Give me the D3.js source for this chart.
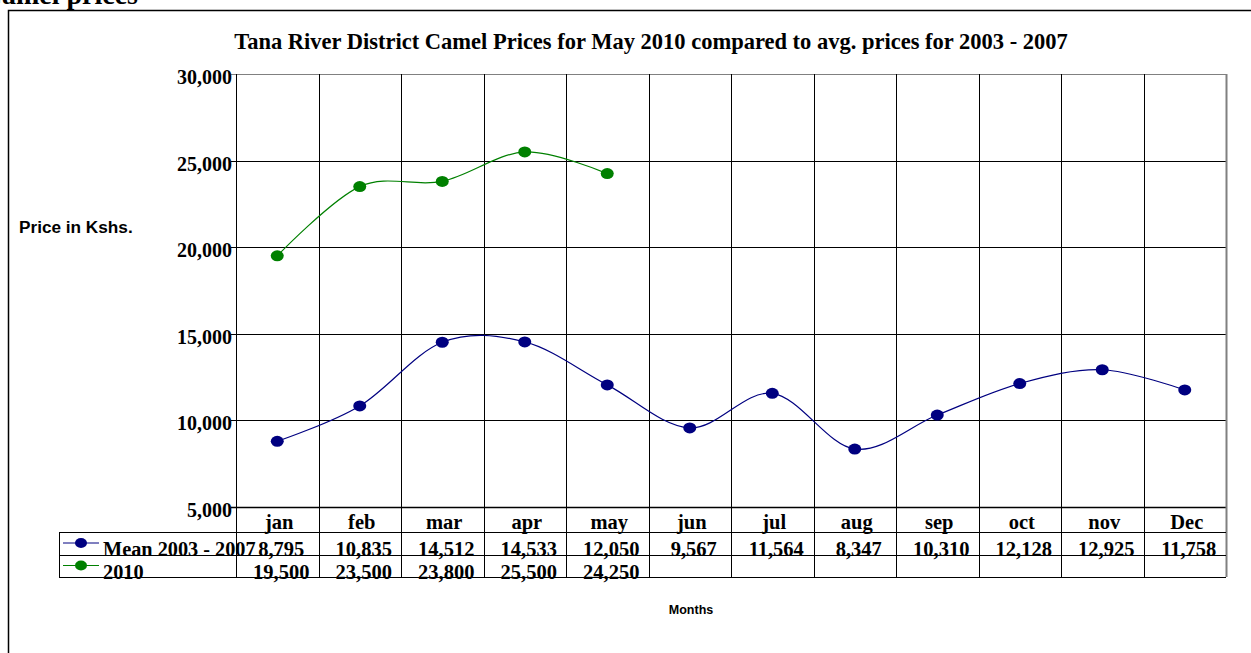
<!DOCTYPE html>
<html>
<head>
<meta charset="utf-8">
<script src="https://cdnjs.cloudflare.com/ajax/libs/d3/7.8.5/d3.min.js"></script>
<style>
  body { margin: 0; background: #fff; overflow: hidden; }
  svg { display: block; }
  .serif { font-family: "Liberation Serif", "Times New Roman", serif; font-weight: bold; }
  .sans { font-family: "Liberation Sans", Arial, sans-serif; font-weight: bold; }
</style>
</head>
<body>
<div id="chart"></div>
<script>
// data
var months = ["jan", "feb", "mar", "apr", "may", "jun", "jul", "aug", "sep", "oct", "nov", "Dec"];
var meanPrices = [8795, 10835, 14512, 14533, 12050, 9567, 11564, 8347, 10310, 12128, 12925, 11758];
var prices2010 = [19500, 23500, 23800, 25500, 24250];
var yTicks = [5000, 10000, 15000, 20000, 25000, 30000];

var seriesNames = ["Mean 2003 - 2007", "2010"];
var seriesColors = ["#000080", "#008000"];

var width = 1251, height = 653;
var plotLeft = 236, plotRight = 1226, plotTop = 74, plotBottom = 507;

var svg = d3.select("#chart").append("svg")
    .attr("width", width)
    .attr("height", height);

// outer frame (runs off the page at right/bottom)
svg.append("rect")
    .attr("x", 8.5).attr("y", 10.5)
    .attr("width", 1300).attr("height", 700)
    .attr("fill", "none")
    .attr("stroke", "#000")
    .attr("stroke-width", 1.5);

// heading cut off at the top
svg.append("text")
    .attr("class", "serif")
    .attr("x", 138).attr("y", 4)
    .attr("text-anchor", "end")
    .style("font-size", "28px")
    .text("Camel prices");

svg.append("text")
    .attr("class", "serif")
    .attr("x", 651).attr("y", 49)
    .attr("text-anchor", "middle")
    .style("font-size", "22.5px")
    .text("Tana River District Camel Prices for May 2010 compared to avg. prices for 2003 - 2007");

var x = d3.scaleBand()
    .domain(months)
    .range([plotLeft, plotRight]);

var y = d3.scaleLinear()
    .domain([5000, 30000])
    .range([plotBottom, plotTop]);

// horizontal grid
svg.append("g")
    .selectAll("line")
    .data(yTicks)
    .enter()
    .append("line")
    .attr("x1", plotLeft - 5)
    .attr("x2", plotRight)
    .attr("y1", function(d) { return Math.round(y(d)) + 0.5; })
    .attr("y2", function(d) { return Math.round(y(d)) + 0.5; })
    .attr("stroke", function(d) { return d == 30000 ? "#808080" : "#000"; })
    .attr("stroke-width", function(d) { return d == 5000 ? 1.5 : 1; });

// y labels
svg.append("g")
    .selectAll("text")
    .data(yTicks)
    .enter()
    .append("text")
    .attr("class", "serif")
    .attr("x", plotLeft - 4)
    .attr("y", function(d) { return y(d) + 10; })
    .attr("text-anchor", "end")
    .style("font-size", "20px")
    .text(function(d) { return d3.format(",")(d); });

// table geometry
var tableTop = 532, rowH = 22.5, legendLeft = 59;
var tableBottom = tableTop + 2 * rowH;

// vertical grid (goes down through the data table)
var edges = months.map(function(m) { return x(m); }).concat([plotRight]);
svg.append("g")
    .selectAll("line")
    .data(edges)
    .enter()
    .append("line")
    .attr("x1", function(d) { return Math.round(d) + 0.5; })
    .attr("x2", function(d) { return Math.round(d) + 0.5; })
    .attr("y1", plotTop)
    .attr("y2", tableBottom)
    .attr("stroke", function(d, i) { return i == edges.length - 1 ? "#808080" : "#000"; })
    .attr("stroke-width", function(d, i) { return i == edges.length - 1 ? 2 : 1; });

// table rows
[tableTop, tableTop + rowH, tableBottom].forEach(function(yy) {
    svg.append("line")
        .attr("x1", legendLeft).attr("x2", plotRight)
        .attr("y1", Math.round(yy) + 0.5).attr("y2", Math.round(yy) + 0.5)
        .attr("stroke", "#000");
});
svg.append("line")
    .attr("x1", legendLeft + 0.5).attr("x2", legendLeft + 0.5)
    .attr("y1", tableTop).attr("y2", tableBottom)
    .attr("stroke", "#000");

// month labels
svg.append("g")
    .selectAll("text")
    .data(months)
    .enter()
    .append("text")
    .attr("class", "serif")
    .attr("x", function(d) { return x(d) + x.bandwidth() / 2 + 2; })
    .attr("y", 529)
    .attr("text-anchor", "middle")
    .style("font-size", "20.5px")
    .text(function(d) { return d; });

// lines
var line = d3.line()
    .x(function(d, i) { return x(months[i]) + x.bandwidth() / 2; })
    .y(function(d) { return y(d); })
    .curve(d3.curveCardinal.tension(0));

[meanPrices, prices2010].forEach(function(vals, s) {
    var g = svg.append("g");
    g.append("path")
        .attr("d", line(vals))
        .attr("fill", "none")
        .attr("stroke", seriesColors[s])
        .attr("stroke-width", 1.2);
    g.selectAll("ellipse")
        .data(vals)
        .enter()
        .append("ellipse")
        .attr("cx", function(d, i) { return x(months[i]) + x.bandwidth() / 2; })
        .attr("cy", function(d) { return y(d); })
        .attr("rx", 6.5)
        .attr("ry", 5.5)
        .attr("fill", seriesColors[s]);

    // table row
    var rowY = tableTop + rowH * s;
    var lg = svg.append("g");
    lg.append("line")
        .attr("x1", 63).attr("x2", 99)
        .attr("y1", rowY + 11).attr("y2", rowY + 11)
        .attr("stroke", seriesColors[s]);
    lg.append("ellipse")
        .attr("cx", 81).attr("cy", rowY + 11)
        .attr("rx", 6).attr("ry", 5)
        .attr("fill", seriesColors[s]);
    lg.append("text")
        .attr("class", "serif")
        .attr("x", 103).attr("y", rowY + 24)
        .style("font-size", "20.3px")
        .text(seriesNames[s]);

    svg.append("g")
        .selectAll("text")
        .data(vals)
        .enter()
        .append("text")
        .attr("class", "serif")
        .attr("x", function(d, i) { return x(months[i]) + x.bandwidth() / 2 + 4; })
        .attr("y", rowY + 24)
        .attr("text-anchor", "middle")
        .style("font-size", "20.5px")
        .text(function(d) { return d3.format(",")(d); });
});

// axis titles
svg.append("text")
    .attr("class", "sans")
    .attr("x", 19).attr("y", 233)
    .style("font-size", "17.2px")
    .text("Price in Kshs.");

svg.append("text")
    .attr("class", "sans")
    .attr("x", 691).attr("y", 614)
    .attr("text-anchor", "middle")
    .style("font-size", "12.5px")
    .text("Months");
</script>
</body>
</html>
